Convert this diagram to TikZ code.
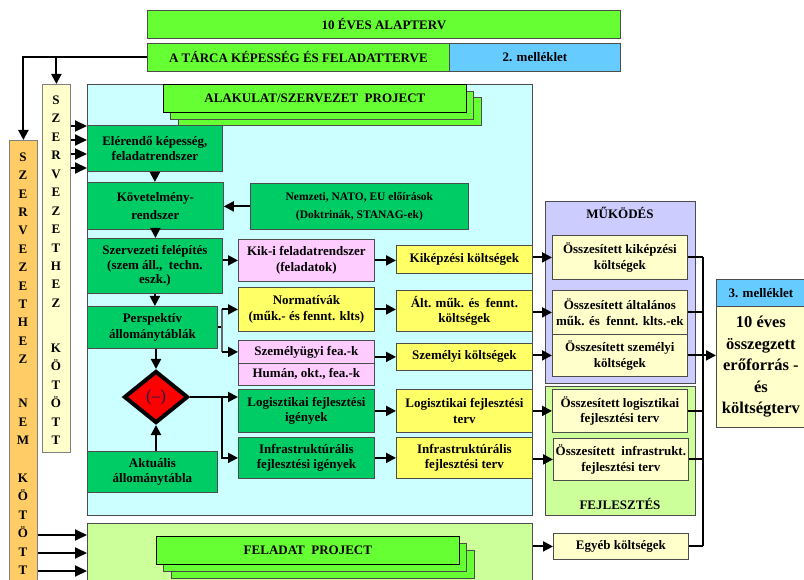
\documentclass[tikz,border=0pt]{standalone}
\usepackage{fontspec}
\setmainfont{Liberation Serif}
\usetikzlibrary{arrows.meta,calc,shapes.geometric}

\definecolor{cLime}{HTML}{66FF33}
\definecolor{cGreen}{HTML}{00CC66}
\definecolor{cCyan}{HTML}{CCFFFF}
\definecolor{cPale}{HTML}{CCFF99}
\definecolor{cLav}{HTML}{CCCCFF}
\definecolor{cPink}{HTML}{FFCCFF}
\definecolor{cYel}{HTML}{FFFF66}
\definecolor{cCream}{HTML}{FFFFCC}
\definecolor{cOrange}{HTML}{FFCC66}
\definecolor{cBlue}{HTML}{66CCFF}
\definecolor{cNavy}{HTML}{1A1A4D}

\newcommand\fz[2]{\fontsize{#1}{#2}\selectfont\bfseries}

\tikzset{
  bx/.style={draw=black!70, line width=0.8pt, anchor=north west, inner sep=1pt,
             align=center, font=\fz{13}{15.5}, text=black},
  arr/.style={line width=2pt, -{Triangle[length=10pt,width=10pt]}},
  bigarr/.style={line width=2pt, -{Triangle[length=12pt,width=11pt]}},
  ln/.style={line width=2pt},
  vl/.style={anchor=base, inner sep=0pt, font=\fz{13}{13}},
  ttl/.style={inner sep=0pt, font=\fz{13}{13}},
}

\begin{document}
\begin{tikzpicture}[x=1pt,y=-1pt]
\useasboundingbox (0,0) rectangle (804,580);

% top plan bars
\node[bx, fill=cLime, minimum width=473, minimum height=28] (alap) at (147,10) {10 ÉVES ALAPTERV};
\node[bx, fill=cLime, minimum width=302, minimum height=28] (tarca) at (147,43) {A TÁRCA KÉPESSÉG ÉS FELADATTERVE};
\node[bx, fill=cBlue, minimum width=171, minimum height=28] (mell2) at (449,43) {2. melléklet};

% vertical side bands
\node[bx, fill=cCream, draw=black!50, minimum width=28, minimum height=368] (kot) at (42,84) {};
\node[bx, fill=cOrange, draw=black!50, minimum width=28, minimum height=445] (nkot) at (9,140) {};
\foreach \l [count=\i from 0] in {S,Z,E,R,V,E,Z,E,T,H,E,Z}
  \node[vl] (ka\i) at (56,{100+18.45*\i+4.5}) {\l};
\foreach \l [count=\i from 0] in {K,Ö,T,Ö,T,T}
  \node[vl] (kb\i) at (56,{348+18.4*\i+4.5}) {\l};
\foreach \l [count=\i from 0] in {S,Z,E,R,V,E,Z,E,T,H,E,Z}
  \node[vl] (na\i) at (23,{157+18.36*\i+4.5}) {\l};
\foreach \l [count=\i from 0] in {N,E,M}
  \node[vl] (nb\i) at (23,{403+18.5*\i+4.5}) {\l};
\foreach \l [count=\i from 0] in {K,Ö,T,Ö,T,T}
  \node[vl] (nc\i) at (23,{478+18.4*\i+4.5}) {\l};

% unit project area
\node[bx, fill=cCyan, minimum width=445, minimum height=431] (alakbg) at (87,84) {};
\node[bx, fill=cLime, minimum width=303, minimum height=28] (alakc) at (178,97) {};
\node[bx, fill=cLime, minimum width=303, minimum height=28] (alakb) at (170,91) {};
\node[bx, fill=cLime, draw=black, minimum width=303, minimum height=28] (alak) at (163,84) {ALAKULAT/SZERVEZET\ \ PROJECT};

\node[bx, fill=cGreen, minimum width=135, minimum height=46] (ele) at (87,125) {Elérendő képesség,\\feladatrendszer};
\node[bx, fill=cGreen, minimum width=136, minimum height=47, font=\fz{13}{18}] (kov) at (87,182) {Követelmény-\\rendszer};
\node[bx, fill=cGreen, minimum width=218, minimum height=46, font=\fz{11.5}{18}] (nem) at (250,183) {Nemzeti, NATO, EU előírások\\(Doktrinák, STANAG-ek)};
\node[bx, fill=cGreen, minimum width=135, minimum height=55, font=\fz{13}{14.5}] (szerv) at (87,238) {Szervezeti felépítés\\(szem áll.,\ \ techn.\\eszk.)};
\node[bx, fill=cGreen, minimum width=130, minimum height=42] (persp) at (87,306) {Perspektív\\állománytáblák};
\node[bx, fill=cGreen, minimum width=130, minimum height=41] (akt) at (87,451) {Aktuális\\állománytábla};

\node[diamond, draw=black, line width=4pt, fill=red, minimum width=64, minimum height=52,
      inner sep=0pt, text=cNavy, font=\fontsize{17}{17}\selectfont] (dia) at (156,397) {(–)};

\node[bx, fill=cPink, minimum width=136, minimum height=42] (kik) at (238,239) {Kik-i feladatrendszer\\(feladatok)};
\node[bx, fill=cYel, minimum width=136, minimum height=44] (norm) at (238,287) {Normatívák\\(műk.- és fennt. klts)};
\node[bx, fill=cPink, minimum width=136, minimum height=23] (szem1) at (238,340) {Személyügyi fea.-k};
\node[bx, fill=cPink, minimum width=136, minimum height=22] (szem2) at (238,363) {Humán, okt., fea.-k};
\node[bx, fill=cGreen, minimum width=136, minimum height=43] (logi) at (238,389) {Logisztikai fejlesztési\\igények};
\node[bx, fill=cGreen, minimum width=136, minimum height=41] (infi) at (238,437) {Infrastruktúrális\\fejlesztési igények};

\node[bx, fill=cYel, minimum width=136, minimum height=28] (kikc) at (396,245) {Kiképzési költségek};
\node[bx, fill=cYel, minimum width=136, minimum height=41] (altc) at (396,290) {Ált. műk. és\ \ fennt.\\költségek};
\node[bx, fill=cYel, minimum width=136, minimum height=27] (szemc) at (396,343) {Személyi költségek};
\node[bx, fill=cYel, minimum width=136, minimum height=43] (logt) at (396,389) {Logisztikai fejlesztési\\terv};
\node[bx, fill=cYel, minimum width=136, minimum height=41] (inft) at (396,437) {Infrastruktúrális\\fejlesztési terv};

% task project area
\node[bx, fill=cPale, minimum width=445, minimum height=62] (fel) at (87,523) {};
\node[bx, fill=cLime, minimum width=303, minimum height=28] (felc) at (171,550) {};
\node[bx, fill=cLime, minimum width=303, minimum height=28] (felb) at (163,543) {};
\node[bx, fill=cLime, draw=black, minimum width=303, minimum height=28] (felp) at (156,536) {FELADAT\ \ PROJECT};

% operation and development groups
\node[bx, fill=cLav, minimum width=150, minimum height=182] (muk) at (545,201) {};
\node[ttl] (mukt) at (620,213) {MŰKÖDÉS};
\node[bx, fill=cCream, minimum width=135, minimum height=44] (ok) at (552,235) {Összesített kiképzési\\költségek};
\node[bx, fill=cCream, minimum width=135, minimum height=44] (oa) at (552,290) {Összesített általános\\műk. és\ \ fennt. klts.-ek};
\node[bx, fill=cCream, minimum width=135, minimum height=42] (osz) at (552,334) {Összesített személyi\\költségek};

\node[bx, fill=cPale, minimum width=150, minimum height=129] (fej) at (545,386) {};
\node[ttl] (fejt) at (620,504) {FEJLESZTÉS};
\node[bx, fill=cCream, minimum width=135, minimum height=43] (ol) at (552,389) {Összesített logisztikai\\fejlesztési terv};
\node[bx, fill=cCream, minimum width=135, minimum height=42] (oi) at (553,438) {Összesített\ \ infrastrukt.\\fejlesztési terv};
\node[bx, fill=cCream, minimum width=135, minimum height=26] (egy) at (553,533) {Egyéb költségek};

% annex 3
\node[bx, fill=cBlue, minimum width=89, minimum height=27] (m3h) at (716,279) {3. melléklet};
\node[bx, fill=cCream, minimum width=89, minimum height=121, font=\fz{16.5}{21.5}] (m3b) at (716,306) {10 éves\\összegzett\\erőforrás -\\és\\költségterv};

% feeds from the plan
\draw[arr] (tarca.west) -| (nkot.north);
\draw[arr] (tarca.west -| kot.north) -- (kot.north);
\foreach \d in {1,15,29,43} {
  \path ($(ele.north west)+(0,\d)$) coordinate (t);
  \draw[bigarr] (kot.east |- t) -- (t);
}
\foreach \d in {12,30,48} {
  \path ($(fel.north west)+(0,\d)$) coordinate (t);
  \draw[bigarr] (nkot.east |- t) -- (t);
}

% main chain
\draw[arr] (ele.south) -- (ele.south |- kov.north);
\draw[arr] (nem.west) -- (nem.west -| kov.east);
\draw[arr] (kov.south) -- (kov.south |- szerv.north);
\draw[arr] (kik.west -| szerv.east) -- (kik.west);
\draw[arr] (szerv.south) -- (szerv.south |- persp.north);
\coordinate (fk) at ($(persp.east)+(4,0)$);
\draw[ln] (persp.east) -- (fk);
\draw[line width=1.5pt, black!60] (fk |- norm.west) -- (fk |- szem1.west);
\draw[arr] (fk |- norm.west) -- (norm.west);
\draw[arr] (fk |- szem1.west) -- (szem1.west);
\draw[arr] (dia.north |- persp.south) -- (dia.north);
\draw[arr] (dia.south |- akt.north) -- (dia.south);
\draw[arr] (dia.east) -- (dia.east -| logi.west);
\coordinate (fk2) at ($(dia.east -| logi.west)+(-16,0)$);
\draw[arr] (fk2) |- (infi.west);

% to cost categories
\draw[arr] (kik.east) -- (kik.east -| kikc.west);
\draw[arr] (norm.east) -- (norm.east -| altc.west);
\draw[arr] (szemc.west -| szem1.east) -- (szemc.west);
\draw[arr] (logi.east) -- (logi.east -| logt.west);
\draw[arr] (infi.east) -- (infi.east -| inft.west);

% to summaries
\draw[arr] (ok.west -| kikc.east) -- (ok.west);
\draw[arr] (oa.west -| altc.east) -- (oa.west);
\draw[arr] (osz.west -| szemc.east) -- (osz.west);
\draw[arr] (logt.east) -- (logt.east -| ol.west);
\draw[arr] (oi.west -| inft.east) -- (oi.west);
\draw[arr] (egy.west -| fel.east) -- (egy.west);

% collecting bus to annex 3
\coordinate (bus) at (703,0);
\draw[ln] (bus |- ok.east) -- (bus |- egy.east);
\foreach \n in {ok,oa,ol,oi,egy}
  \draw[ln] (\n.east) -- (\n.east -| bus);
\draw[arr] (osz.east) -- (osz.east -| m3b.west);

\end{tikzpicture}
\end{document}
